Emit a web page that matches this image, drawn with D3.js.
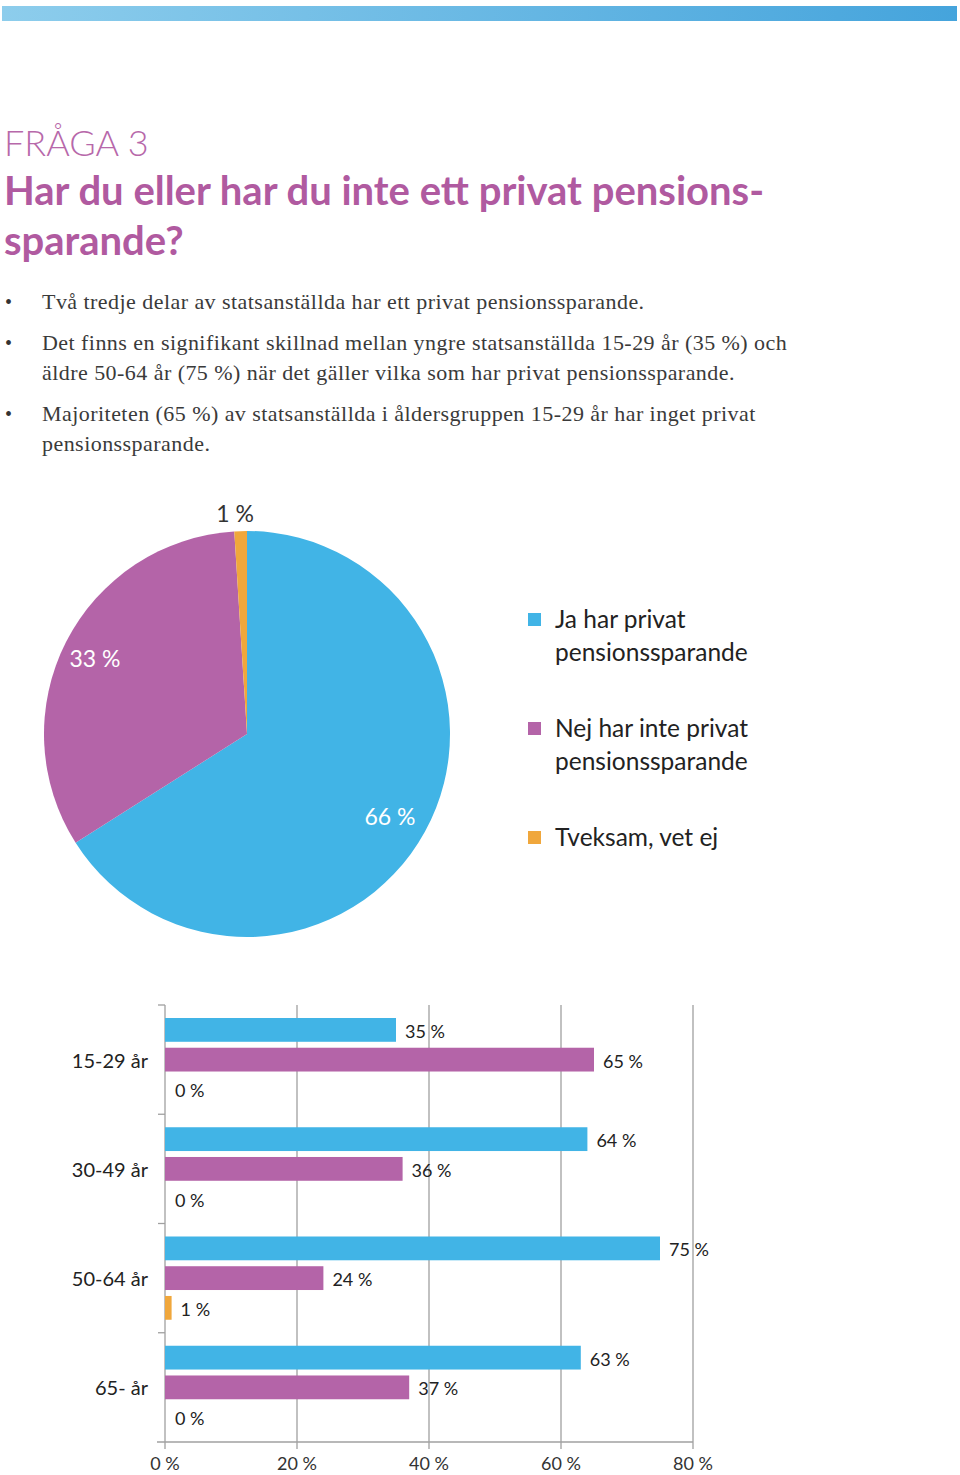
<!DOCTYPE html>
<html><head><meta charset="utf-8">
<script src="https://cdn.jsdelivr.net/npm/d3@7"></script>
<style>
body{margin:0;background:#fff;}
svg{display:block;}
</style></head>
<body>
<svg id="c" width="960" height="1475"></svg>
<script>
const pieCategories = ["Ja har privat pensionssparande","Nej har inte privat pensionssparande","Tveksam, vet ej"];
const pieValues = [66, 33, 1];
const pieLabels = ["66 %","33 %","1 %"];
const legendLines = [["Ja har privat","pensionssparande"],["Nej har inte privat","pensionssparande"],["Tveksam, vet ej"]];
const ageGroups = ["15-29 år","30-49 år","50-64 år","65- år"];
const jaValues = [35, 64, 75, 63];
const nejValues = [65, 36, 24, 37];
const tveksamValues = [0, 0, 1, 0];
const xTicks = [0, 20, 40, 60, 80];
const colors = ["#41b4e6","#b464a8","#f0a73c"];
const bullets = [
 ["Två tredje delar av statsanställda har ett privat pensionssparande."],
 ["Det finns en signifikant skillnad mellan yngre statsanställda 15-29 år (35 %) och","äldre 50-64 år (75 %) när det gäller vilka som har privat pensionssparande."],
 ["Majoriteten (65 %) av statsanställda i åldersgruppen 15-29 år har inget privat","pensionssparande."]
];

const svg = d3.select("#c");
const defs = svg.append("defs");
const grad = defs.append("linearGradient").attr("id","topg");
grad.append("stop").attr("offset","0%").attr("stop-color","#8dcdec");
grad.append("stop").attr("offset","100%").attr("stop-color","#45a4dc");
svg.append("rect").attr("x",2).attr("y",6).attr("width",955).attr("height",15).attr("fill","url(#topg)");

const sans = "Lato, 'Open Sans', sans-serif";
const purple = "#b05aa0";
svg.append("text").attr("x",4).attr("y",156).attr("font-family",sans).attr("font-weight",300)
  .attr("font-size",36).attr("fill","#b768aa").text("FRÅGA 3");
svg.append("text").attr("x",4).attr("y",205).attr("font-family",sans).attr("font-weight",700)
  .attr("font-size",40).attr("fill",purple).text("Har du eller har du inte ett privat pensions-");
svg.append("text").attr("x",4).attr("y",255).attr("font-family",sans).attr("font-weight",700)
  .attr("font-size",40).attr("fill",purple).text("sparande?");

const serif = "'Liberation Serif', 'DejaVu Serif', serif";
const bulletY = [309, 350, 421];
bullets.forEach((b,i)=>{
  svg.append("text").attr("x",5).attr("y",bulletY[i]).attr("font-family",serif).attr("font-size",20).attr("fill","#333").text("•");
  b.forEach((line,j)=>{
    svg.append("text").attr("x",42).attr("y",bulletY[i]+j*30).attr("font-family",serif).attr("font-size",22)
      .attr("letter-spacing",0.45).attr("fill","#3a3a3a").text(line);
  });
});

// Pie
const cx = 247, cy = 734, r = 203;
const pie = d3.pie().sort(null).value(d=>d)(pieValues);
const arc = d3.arc().innerRadius(0).outerRadius(r);
const pg = svg.append("g").attr("transform",`translate(${cx},${cy})`);
pg.selectAll("path").data(pie).join("path").attr("d",arc).attr("fill",(d,i)=>colors[i]);
const labelPos = [[143,91,"#fff"],[-152,-67,"#fff"],[-12,-212,"#333"]];
pie.forEach((d,i)=>{
  pg.append("text").attr("x",labelPos[i][0]).attr("y",labelPos[i][1]).attr("text-anchor","middle")
    .attr("font-family",sans).attr("font-size",23).attr("fill",labelPos[i][2]).text(pieLabels[i]);
});

// Legend
const legY = [628, 737, 846];
legendLines.forEach((lines,i)=>{
  svg.append("rect").attr("x",528).attr("y",legY[i]-15).attr("width",13).attr("height",13).attr("fill",colors[i]);
  lines.forEach((t,j)=>{
    svg.append("text").attr("x",555).attr("y",legY[i]+j*33).attr("font-family",sans).attr("font-size",24.5).attr("fill","#222").text(t);
  });
});

// Bar chart
const x = d3.scaleLinear().domain([0,80]).range([165,693]);
const y0 = d3.scaleBand().domain(ageGroups).range([1005,1442]);
const inner = d3.scaleBand().domain([0,1,2]).range([13, y0.bandwidth()-13]).paddingInner(0.2);
const gridC = "#a0a0a0";
const bg = svg.append("g");
xTicks.forEach(t=>{
  if(t>0) bg.append("line").attr("x1",x(t)).attr("x2",x(t)).attr("y1",1005).attr("y2",1449).attr("stroke",gridC).attr("stroke-width",1.3);
  else bg.append("line").attr("x1",x(t)).attr("x2",x(t)).attr("y1",1442).attr("y2",1449).attr("stroke",gridC).attr("stroke-width",1.3);
  bg.append("text").attr("x",x(t)).attr("y",1470).attr("text-anchor","middle").attr("font-family",sans).attr("font-size",18).attr("fill","#333").text(t+" %");
});
bg.append("line").attr("x1",x(0)).attr("x2",x(0)).attr("y1",1005).attr("y2",1442).attr("stroke",gridC).attr("stroke-width",1.3);
bg.append("line").attr("x1",157).attr("x2",x(80)).attr("y1",1442).attr("y2",1442).attr("stroke",gridC).attr("stroke-width",1.3);
ageGroups.forEach(g=>{
  bg.append("line").attr("x1",158).attr("x2",165).attr("y1",y0(g)).attr("y2",y0(g)).attr("stroke",gridC).attr("stroke-width",1.3);
});

const series = [jaValues, nejValues, tveksamValues];
ageGroups.forEach((g,gi)=>{
  series.forEach((vals,si)=>{
    const v = vals[gi];
    const yy = y0(g)+inner(si);
    if(v>0) svg.append("rect").attr("x",x(0)).attr("y",yy).attr("width",x(v)-x(0)).attr("height",inner.bandwidth()).attr("fill",colors[si]);
    svg.append("text").attr("x",x(v)+ (v>0?9:10)).attr("y",yy+inner.bandwidth()/2+8).attr("font-family",sans).attr("font-size",18).attr("fill","#222").text(v+" %");
  });
  svg.append("text").attr("x",148).attr("y",y0(g)+inner(1)+inner.bandwidth()/2+8).attr("text-anchor","end")
    .attr("font-family",sans).attr("font-size",20).attr("fill","#222").text(g);
});
</script>
</body></html>
